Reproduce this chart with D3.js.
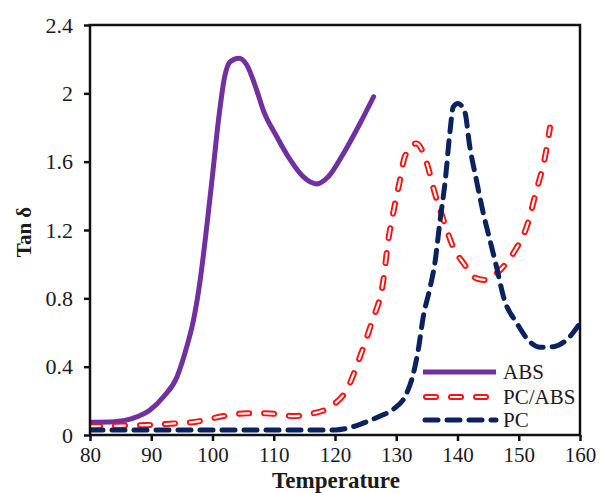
<!DOCTYPE html>
<html>
<head>
<meta charset="utf-8">
<script src="https://cdn.jsdelivr.net/npm/d3@7"></script>
<style>
  html, body { margin: 0; padding: 0; background: #fff; }
  svg { display: block; }
  text { font-family: "Liberation Serif", "Times New Roman", serif; fill: #1a1a1a; }
</style>
</head>
<body>
<svg id="chart" width="600" height="493"></svg>
<script>
// Loss factor (tan δ) against temperature for three materials
const absTemp = [80, 84, 87, 89.8, 92, 94.2, 95.8, 96.9, 98, 99, 100, 101, 102, 102.9, 104.3, 105.6, 107.2, 108.3, 110.5, 112.7, 114.8, 117, 118.9, 121.4, 124.1, 126.3];
const absTan  = [0.075, 0.078, 0.098, 0.146, 0.224, 0.34, 0.517, 0.673, 0.91, 1.2, 1.52, 1.85, 2.1, 2.185, 2.205, 2.166, 2.02, 1.9, 1.746, 1.61, 1.512, 1.47, 1.512, 1.649, 1.825, 1.98];

const blendTemp = [80, 83, 86.5, 89.3, 93, 97.4, 101.8, 105.6, 108.8, 113.2, 116.5, 119.7, 122, 124, 126, 127.9, 128.7, 129.5, 130.6, 131.4, 133.3, 135, 136.3, 137.7, 139.3, 141, 143.1, 144.8, 146.4, 149.1, 151.3, 152.9, 154.3, 155.1];
const blendTan  = [0.05, 0.053, 0.056, 0.058, 0.066, 0.078, 0.111, 0.127, 0.127, 0.111, 0.127, 0.176, 0.27, 0.45, 0.66, 0.907, 1.14, 1.3, 1.49, 1.63, 1.707, 1.59, 1.415, 1.26, 1.1, 1.005, 0.917, 0.907, 0.947, 1.064, 1.22, 1.434, 1.63, 1.8];

const pcTemp = [80, 90, 100, 110, 120, 121.9, 125.2, 127.3, 129.5, 131.7, 132.8, 133.6, 134.4, 135.5, 136.3, 137.1, 138, 138.8, 139.3, 140.1, 141.2, 142, 143.1, 144.2, 145.3, 146.4, 147.5, 149.7, 151.8, 153.5, 155.7, 157.8, 160];
const pcTan  = [0.03, 0.03, 0.03, 0.03, 0.03, 0.039, 0.078, 0.11, 0.15, 0.244, 0.36, 0.5, 0.69, 0.86, 1.005, 1.24, 1.49, 1.785, 1.92, 1.94, 1.89, 1.69, 1.49, 1.3, 1.14, 0.98, 0.81, 0.654, 0.546, 0.513, 0.517, 0.556, 0.654];

const xTicks = [80, 90, 100, 110, 120, 130, 140, 150, 160];
const yTicks = [0, 0.4, 0.8, 1.2, 1.6, 2, 2.4];
const seriesNames = ["ABS", "PC/ABS", "PC"];

const svg = d3.select("#chart");
const plotLeft = 90, plotRight = 580, plotTop = 25, plotBottom = 435;

const x = d3.scaleLinear().domain([80, 160]).range([plotLeft, plotRight]);
const y = d3.scaleLinear().domain([0, 2.4]).range([plotBottom, plotTop]);

const zip = (a, b) => a.map((t, i) => [t, b[i]]);
const line = d3.line().x(d => x(d[0])).y(d => y(d[1])).curve(d3.curveMonotoneX);

svg.append("clipPath").attr("id", "plotClip")
  .append("rect").attr("x", plotLeft).attr("y", plotTop)
  .attr("width", plotRight - plotLeft).attr("height", plotBottom - plotTop);

const plot = svg.append("g").attr("clip-path", "url(#plotClip)");

// ABS: solid purple
plot.append("path").attr("d", line(zip(absTemp, absTan)))
  .attr("fill", "none").attr("stroke", "#7030A0").attr("stroke-width", 5)
  .attr("stroke-linejoin", "round").attr("stroke-linecap", "round");

// PC/ABS: hollow red dashes (red stroke with a white core)
const blendPath = line(zip(blendTemp, blendTan));
plot.append("path").attr("d", blendPath)
  .attr("fill", "none").attr("stroke", "#FF1010").attr("stroke-width", 6)
  .attr("stroke-dasharray", "10,15").attr("stroke-linecap", "round");
plot.append("path").attr("d", blendPath)
  .attr("fill", "none").attr("stroke", "#fff").attr("stroke-width", 2.2)
  .attr("stroke-dasharray", "10,15").attr("stroke-linecap", "round");

// PC: navy dashes
plot.append("path").attr("d", line(zip(pcTemp, pcTan)))
  .attr("fill", "none").attr("stroke", "#0B2260").attr("stroke-width", 5)
  .attr("stroke-dasharray", "13,9").attr("stroke-linecap", "round");

// Frame
svg.append("rect").attr("x", plotLeft).attr("y", plotTop)
  .attr("width", plotRight - plotLeft).attr("height", plotBottom - plotTop)
  .attr("fill", "none").attr("stroke", "#111").attr("stroke-width", 2.5);

// Axes
const xAxis = svg.append("g").attr("transform", `translate(0,${plotBottom})`)
  .call(d3.axisBottom(x).tickValues(xTicks).tickSize(6).tickPadding(6).tickFormat(d3.format("d")));
const yAxis = svg.append("g").attr("transform", `translate(${plotLeft},0)`)
  .call(d3.axisLeft(y).tickValues(yTicks).tickSize(6).tickPadding(11).tickFormat(d => String(d)));

[xAxis, yAxis].forEach(g => {
  g.select(".domain").remove();
  g.selectAll(".tick line").attr("stroke", "#111").attr("stroke-width", 2.5);
  g.selectAll(".tick text").style("font-family", "'Liberation Serif', serif")
    .style("font-size", "22px").attr("fill", "#222");
});
xAxis.selectAll(".tick text").style("font-size", "21px").attr("dy", "0.71em");

// Axis titles
svg.append("text").attr("x", (plotLeft + plotRight) / 2 + 1).attr("y", 487.5)
  .attr("text-anchor", "middle").style("font-size", "23px").style("font-weight", "bold")
  .text("Temperature");
svg.append("text").attr("transform", "translate(31,232) rotate(-90)")
  .attr("text-anchor", "middle").style("font-size", "21px").style("font-weight", "bold")
  .text("Tan δ");

// Legend
const legend = svg.append("g");
const legendY = [372, 397, 420];
legendY.forEach((ly, i) => {
  const g = legend.append("g");
  if (i === 0) {
    g.append("line").attr("x1", 423).attr("x2", 496).attr("y1", ly).attr("y2", ly)
      .attr("stroke", "#7030A0").attr("stroke-width", 5);
  } else if (i === 1) {
    g.append("line").attr("x1", 426).attr("x2", 496).attr("y1", ly).attr("y2", ly)
      .attr("stroke", "#FF1010").attr("stroke-width", 6).attr("stroke-dasharray", "10,15").attr("stroke-linecap", "round");
    g.append("line").attr("x1", 426).attr("x2", 496).attr("y1", ly).attr("y2", ly)
      .attr("stroke", "#fff").attr("stroke-width", 2.2).attr("stroke-dasharray", "10,15").attr("stroke-linecap", "round");
  } else {
    g.append("line").attr("x1", 425).attr("x2", 496).attr("y1", ly).attr("y2", ly)
      .attr("stroke", "#0B2260").attr("stroke-width", 5).attr("stroke-dasharray", "13,9").attr("stroke-linecap", "round");
  }
  g.append("text").attr("x", 503).attr("y", ly + 7).style("font-size", "21px").attr("fill", "#222")
    .text(seriesNames[i]);
});
</script>
</body>
</html>
